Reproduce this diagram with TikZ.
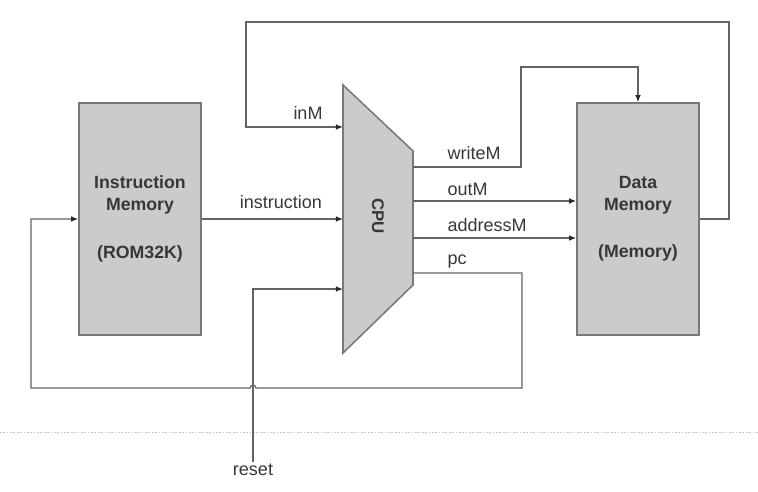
\documentclass[tikz,border=0pt]{standalone}
\usepackage{fontspec}
\setmainfont{Liberation Sans}
\usetikzlibrary{arrows.meta}
\definecolor{boxgray}{RGB}{203,203,205}
\definecolor{edgegray}{RGB}{120,120,120}
\definecolor{wiregray}{RGB}{100,100,100}
\definecolor{tipgray}{RGB}{40,40,40}
\definecolor{textgray}{RGB}{55,55,55}
\begin{document}
\begin{tikzpicture}[x=0.025cm,y=-0.025cm,
  memory/.style={draw=edgegray,fill=boxgray,line width=1.1pt,inner sep=0pt,
    minimum width=3.05cm,minimum height=5.8cm,align=center,text=textgray,
    font=\bfseries\fontsize{12.6}{15.6}\selectfont},
  wire/.style={draw=wiregray,line width=0.9pt},
  feed/.style={wire,-{Latex[length=5pt,width=4pt,color=tipgray]}},
  lbl/.style={text=textgray,inner sep=1pt,font=\fontsize{12.8}{15}\selectfont}]
  \useasboundingbox (0,0) rectangle (758,492);

  % page break line
  \draw [gray!45,line width=0.7pt,dash pattern=on 1.2pt off 1.2pt] (0,432) -- (758,432);

  \node [memory] (imem) at (140,219) {Instruction\\Memory\\[18pt](ROM32K)};
  \node [memory] (dmem) at (638,219) {Data\\Memory\\[18pt](Memory)};

  \draw [draw=edgegray,fill=boxgray,line width=1.1pt] (343,85) -- (413,151) -- (413,285) -- (343,353) -- cycle;
  \node [rotate=-90,text=textgray,font=\bfseries\fontsize{12}{14}\selectfont] (cpu) at (378,216) {CPU};

  \coordinate (inMin) at (343,127);
  \coordinate (instrin) at (343,219);
  \coordinate (resetin) at (343,289);
  \coordinate (writeout) at (413,167);
  \coordinate (outout) at (413,201);
  \coordinate (addrout) at (413,238);
  \coordinate (pcout) at (413,273);

  \draw [feed] (dmem.east) -| (729,22) -| (246,127) -- (inMin);
  \draw [feed] (imem.east) -- (instrin);
  \draw [feed] (writeout) -| (521,67) -| (dmem.north);
  \draw [feed] (outout) -- (outout -| dmem.west);
  \draw [feed] (addrout) -- (addrout -| dmem.west);
  \draw [feed] (pcout) -| (522,388) -- (256,388) arc [start angle=0,end angle=180,radius=2.1pt] -- (31,388) |- (imem.west);

  \node [lbl,anchor=base] (reset) at (253,475) {reset};
  \draw [feed] (reset.north) |- (resetin);

  \node [lbl] (inMlbl) at (308,113) {inM};
  \node [lbl] (instrlbl) at (281,202) {instruction};
  \node [lbl,anchor=west] (writelbl) at (446,153) {writeM};
  \node [lbl,anchor=west] (outlbl) at (446,189) {outM};
  \node [lbl,anchor=west] (addrlbl) at (446,225) {addressM};
  \node [lbl,anchor=west] (pclbl) at (446,262) {pc};

\end{tikzpicture}
\end{document}
